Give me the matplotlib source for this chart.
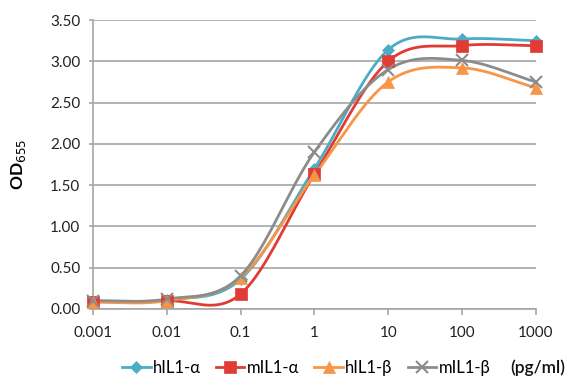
import numpy as np
import matplotlib
matplotlib.use("Agg")
import matplotlib.pyplot as plt
from matplotlib.lines import Line2D

# concentrations (pg/ml) and OD655 readings
conc = [0.001, 0.01, 0.1, 1, 10, 100, 1000]
tick_labels = ["0.001", "0.01", "0.1", "1", "10", "100", "1000"]
h_il1a = [0.09, 0.11, 0.36, 1.70, 3.14, 3.27, 3.25]
m_il1a = [0.09, 0.10, 0.18, 1.63, 3.00, 3.19, 3.19]
h_il1b = [0.08, 0.10, 0.38, 1.62, 2.75, 2.92, 2.68]
m_il1b = [0.10, 0.12, 0.40, 1.90, 2.90, 3.01, 2.75]
series_names = ["hIL1-α", "mIL1-α", "hIL1-β", "mIL1-β"]

colors = ["#4BACC6", "#E03C35", "#F79646", "#8C8C8C"]
markers = ["D", "s", "^", "x"]
msizes = [6, 8, 8, 8]

plt.rcParams['font.family'] = ['Lato', 'DejaVu Sans']


def smooth(xs, ys, n=40):
    # Excel-style smoothed line (Catmull-Rom through the points, in log-x space)
    lx = np.log10(xs)
    ys = np.asarray(ys, dtype=float)
    px = np.concatenate([[2 * lx[0] - lx[1]], lx, [2 * lx[-1] - lx[-2]]])
    py = np.concatenate([[2 * ys[0] - ys[1]], ys, [2 * ys[-1] - ys[-2]]])
    outx, outy = [], []
    t = np.linspace(0, 1, n)
    for i in range(1, len(px) - 2):
        p0x, p1x, p2x, p3x = px[i - 1:i + 3]
        p0y, p1y, p2y, p3y = py[i - 1:i + 3]
        c1x, c1y = p1x + (p2x - p0x) / 6, p1y + (p2y - p0y) / 6
        c2x, c2y = p2x - (p3x - p1x) / 6, p2y - (p3y - p1y) / 6
        bx = (1 - t)**3 * p1x + 3 * (1 - t)**2 * t * c1x + 3 * (1 - t) * t**2 * c2x + t**3 * p2x
        by = (1 - t)**3 * p1y + 3 * (1 - t)**2 * t * c1y + 3 * (1 - t) * t**2 * c2y + t**3 * p2y
        outx.extend(bx)
        outy.extend(by)
    return 10 ** np.array(outx), np.array(outy)


fig = plt.figure(figsize=(5.8, 3.9), dpi=100)
ax = fig.add_axes([0.160, 0.2077, 0.764, 0.741])

for ys, c, m, ms in zip([h_il1a, m_il1a, h_il1b, m_il1b], colors, markers, msizes):
    sx, sy = smooth(conc, ys)
    ax.plot(sx, sy, color=c, lw=2, zorder=3, clip_on=False)
    ax.plot(conc, ys, linestyle="none", marker=m, color=c, markersize=ms,
            markeredgewidth=1.5 if m == "x" else 0.5, zorder=4, clip_on=False)

ax.set_xscale("log")
ax.set_xlim(0.001, 1000)
ax.set_ylim(0, 3.5)
ax.set_xticks(conc)
ax.set_xticklabels(tick_labels)
ax.xaxis.set_minor_locator(matplotlib.ticker.NullLocator())
ax.set_yticks(np.arange(0, 3.51, 0.5))
ax.set_yticklabels(["%.2f" % v for v in np.arange(0, 3.51, 0.5)])
ax.grid(axis="y", color="#A6A6A6", lw=1.2, zorder=0)
for s in ["top", "right"]:
    ax.spines[s].set_visible(False)
for s in ["left", "bottom"]:
    ax.spines[s].set_color("#A6A6A6")
    ax.spines[s].set_linewidth(1.2)
ax.tick_params(axis="x", direction="out", length=4, color="#A6A6A6", width=1.2,
               labelsize=11, pad=8, labelcolor="#222222")
ax.tick_params(axis="y", direction="out", length=3, color="#A6A6A6", width=1.2,
               labelsize=11, pad=6, labelcolor="#222222")

ax.set_ylabel("OD$_{655}$", fontsize=12.5, fontweight="bold", labelpad=16)

handles = [Line2D([0], [0], color=c, lw=2, marker=m, markersize=ms,
                  markeredgewidth=1.5 if m == "x" else 0.5, label=n)
           for c, m, ms, n in zip(colors, markers, msizes, series_names)]
fig.legend(handles=handles, loc="center", bbox_to_anchor=(0.528, 0.056), ncol=4,
           frameon=False, fontsize=12, handlelength=1.7, handletextpad=0.15,
           columnspacing=0.9)
fig.text(0.974, 0.056, "(pg/ml)", ha="right", va="center", fontsize=12.5,
         fontweight="semibold", color="#111111")

fig.savefig("out.png", dpi=100)
